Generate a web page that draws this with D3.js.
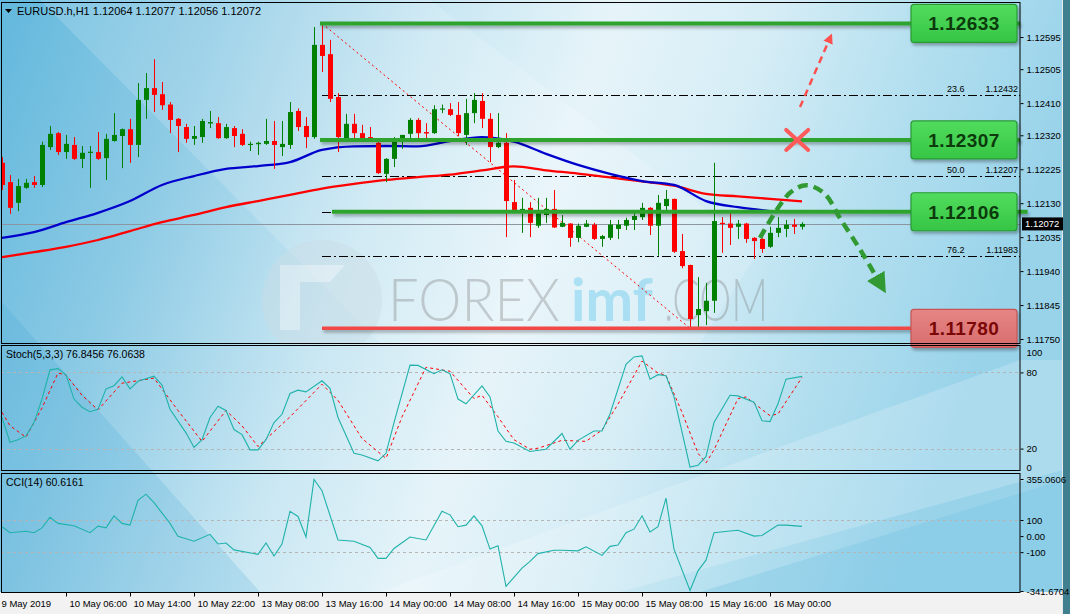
<!DOCTYPE html>
<html><head><meta charset="utf-8">
<script src="https://cdn.jsdelivr.net/npm/d3@7"></script>
<style>
body{margin:0;background:#ffffff;}
svg{display:block;font-family:"Liberation Sans",Arial,sans-serif;}
</style>
</head><body>
<svg id="c" width="1070" height="614"></svg>
<script>
// ---------------- DATA ----------------
const symbolTitle = "EURUSD.h,H1  1.12064 1.12077 1.12056 1.12072";
const stochTitle = "Stoch(5,3,3) 76.8456 76.0638";
const cciTitle = "CCI(14) 60.6161";

const open = [1.12243,1.12189,1.12131,1.12173,1.12189,1.12181,1.12287,1.12326,1.12273,1.12293,
1.12254,1.12271,1.12273,1.12256,1.12304,1.12318,1.12337,1.12293,1.12419,1.12452,
1.12435,1.12406,1.12366,1.12343,1.12310,1.12315,1.12353,1.12354,1.12312,1.12340,
1.12324,1.12293,1.12295,1.12296,1.12304,1.12287,1.12293,1.12388,1.12346,1.12315,
1.12573,1.12547,1.12427,1.12312,1.12352,1.12326,1.12315,1.12299,1.12212,1.12254,
1.12310,1.12324,1.12363,1.12329,1.12326,1.12392,1.12393,1.12377,1.12321,1.12382,
1.12416,1.12366,1.12287,1.12299,1.12133,1.12108,1.12117,1.12067,1.12097,1.12114,
1.12064,1.12073,1.12033,1.12064,1.12070,1.12030,1.12033,1.12058,1.12067,1.12083,
1.12091,1.12117,1.12067,1.12122,1.12142,1.11996,1.11957,1.11817,1.11828,1.11857,
1.12075,1.12073,1.12064,1.12073,1.12033,1.12030,1.12008,1.12047,1.12058,1.12070,
1.12064];
const high = [1.12259,1.12209,1.12198,1.12198,1.12206,1.12302,1.12346,1.12329,1.12321,1.12315,
1.12290,1.12290,1.12329,1.12324,1.12382,1.12339,1.12366,1.12466,1.12494,1.12533,
1.12469,1.12413,1.12368,1.12352,1.12346,1.12366,1.12388,1.12371,1.12352,1.12346,
1.12337,1.12302,1.12302,1.12366,1.12360,1.12360,1.12413,1.12395,1.12371,1.12623,
1.12633,1.12587,1.12438,1.12380,1.12380,1.12349,1.12343,1.12302,1.12256,1.12315,
1.12321,1.12368,1.12368,1.12354,1.12404,1.12406,1.12410,1.12413,1.12422,1.12438,
1.12438,1.12382,1.12382,1.12326,1.12195,1.12145,1.12133,1.12145,1.12145,1.12167,
1.12097,1.12074,1.12073,1.12083,1.12075,1.12041,1.12083,1.12083,1.12089,1.12111,
1.12131,1.12119,1.12153,1.12167,1.12143,1.12044,1.11958,1.11923,1.11907,1.12243,
1.12091,1.12111,1.12083,1.12075,1.12035,1.12033,1.12064,1.12091,1.12083,1.12086,
1.12077];
const low = [1.12167,1.12100,1.12108,1.12170,1.12173,1.12175,1.12279,1.12265,1.12254,1.12251,
1.12228,1.12173,1.12251,1.12195,1.12302,1.12228,1.12243,1.12259,1.12366,1.12385,
1.12391,1.12326,1.12273,1.12299,1.12293,1.12299,1.12340,1.12310,1.12310,1.12287,
1.12290,1.12276,1.12265,1.12293,1.12226,1.12262,1.12282,1.12332,1.12284,1.12310,
1.12497,1.12413,1.12273,1.12307,1.12310,1.12307,1.12304,1.12212,1.12189,1.12231,
1.12282,1.12312,1.12307,1.12310,1.12324,1.12382,1.12374,1.12318,1.12293,1.12354,
1.12340,1.12245,1.12284,1.12035,1.12105,1.12047,1.12035,1.12061,1.12075,1.12061,
1.12063,1.12008,1.12021,1.12063,1.12027,1.12008,1.12027,1.12030,1.12055,1.12055,
1.12083,1.12041,1.11983,1.12111,1.11991,1.11948,1.11780,1.11781,1.11789,1.11823,
1.11991,1.12013,1.12030,1.12019,1.11974,1.11991,1.12005,1.12035,1.12035,1.12044,
1.12056];
const close = [1.12181,1.12117,1.12178,1.12187,1.12181,1.12293,1.12324,1.12273,1.12296,1.12254,
1.12271,1.12274,1.12254,1.12310,1.12321,1.12337,1.12293,1.12419,1.12452,1.12433,
1.12404,1.12363,1.12346,1.12310,1.12318,1.12360,1.12357,1.12312,1.12343,1.12318,
1.12293,1.12296,1.12299,1.12304,1.12293,1.12296,1.12385,1.12343,1.12315,1.12573,
1.12542,1.12422,1.12315,1.12352,1.12326,1.12312,1.12305,1.12214,1.12254,1.12310,
1.12321,1.12363,1.12326,1.12325,1.12393,1.12395,1.12377,1.12326,1.12382,1.12419,
1.12366,1.12287,1.12299,1.12136,1.12111,1.12114,1.12075,1.12103,1.12114,1.12062,
1.12075,1.12033,1.12067,1.12073,1.12030,1.12038,1.12070,1.12070,1.12083,1.12094,
1.12117,1.12067,1.12131,1.12142,1.11994,1.11954,1.11806,1.11834,1.11857,1.12080,
1.12073,1.12061,1.12073,1.12030,1.12024,1.12002,1.12047,1.12061,1.12070,1.12064,
1.12072];

// moving averages, read every 4 bars
const maBlueBars = [0,4,8,12,16,20,24,28,32,36,40,44,48,52,56,60,64,68,72,76,80,84,88,92,96];
const maBlue = [1.12033,1.12049,1.12077,1.12103,1.12136,1.12181,1.12206,1.12226,1.12234,1.12245,1.12279,1.12289,1.12290,1.12289,1.12304,1.12315,1.12302,1.12268,1.12237,1.12212,1.12192,1.12181,1.12136,1.12119,1.12108];
const maRedBars = [0,4,8,12,16,20,24,28,32,36,40,44,48,52,56,60,64,68,72,76,80,84,88,92,96,100];
const maRed = [1.11979,1.11993,1.12008,1.12027,1.12052,1.12077,1.12097,1.12119,1.12136,1.12153,1.12171,1.12184,1.12195,1.12203,1.12210,1.12222,1.12233,1.12222,1.12213,1.12202,1.12191,1.12179,1.12156,1.12149,1.12142,1.12135];

// stochastic (bar, value)
const stochK = [[0,44.5],[1,25],[2,27],[3,30],[4,40.5],[5,59],[6,82],[7,83],[8,78],[9,59],[10,52.6],[11,49],[12,51],[13,67],[14,69.5],[15,76.5],[16,67],[17,73],[19,77],[20,70],[21,51],[23,32.4],[24,21],[25,27],[26,44.5],[27,53.4],[28,50],[29,35],[30,31],[31,19],[32,19],[33,27],[34,40.5],[35,47],[36,63.4],[37,66],[38,64.7],[40,73.4],[41,67.4],[42,44.5],[44,16.3],[45,15],[47,10.4],[48,16.3],[49,40.5],[51,85.7],[52,85.5],[54,79],[55,82],[56,79],[57,59],[58,55.3],[60,69.3],[61,60.7],[62,33.8],[63,25.7],[64,24.4],[66,17.7],[68,19.5],[70,31.9],[71,19.5],[72,26.5],[74,33.8],[75,33.8],[76,47.3],[78,86.3],[79,92.2],[80,93],[81,74.7],[82,78.2],[83,77.3],[84,60.7],[86,5.5],[87,6.9],[88,13.6],[89,40.5],[91,62],[92,61.5],[94,56.6],[95,41.9],[96,41.3],[97,55.3],[98,74.7],[100,76.85]];
const stochD = [[0,48.6],[1,38],[3,29],[5,52],[7,79.5],[8,78],[10,62],[12,50.5],[15,71.5],[19,75.5],[22,50],[25,25.7],[28,50],[30,38],[32,21.6],[36,45],[40,70.7],[42,58],[45,28],[48,12.3],[50,45],[53,84],[56,80.9],[59,59.4],[60,62],[62,45],[64,27],[66,19.5],[67,20.3],[70,26.5],[73,25.7],[75,34.6],[77,55],[80,88.9],[82,79.5],[83,77.7],[85,48.6],[87,16.3],[88,8.7],[89,19],[92,59.4],[93,60.7],[96,45.9],[97,47.3],[100,76.06]];
const stochLevels = [80,20];
const stochTicks = [100,80,20,0];

// CCI (bar, value)
const cci = [[0,58],[1,21],[3,30],[4,21],[5,51],[6,117],[7,79],[9,64],[11,21],[12,62],[13,51],[14,126],[15,79],[16,68],[17,223],[18,261],[19,208],[21,79],[22,-2],[24,-32],[26,11],[27,-49],[28,-43],[29,-86],[32,-114],[33,-43],[34,-124],[35,-49],[36,154],[37,122],[38,-6],[39,352],[40,282],[42,-24],[44,-32],[46,-71],[47,-139],[48,-139],[49,-77],[51,-6],[53,-24],[55,154],[56,132],[57,58],[58,68],[59,126],[60,64],[61,-81],[62,-60],[63,-313],[65,-199],[66,-157],[67,-109],[69,-88],[70,-88],[72,-92],[73,-67],[75,-120],[76,-64],[77,-56],[78,21],[79,43],[80,126],[81,25],[82,58],[83,236],[84,-81],[86,-338],[87,-216],[88,-150],[89,21],[91,32],[92,36],[94,0],[95,4],[97,68],[98,68],[100,60.6]];
const cciLevels = [100,-100];
const cciTicks = [355.0606,100,0,-100,-341.6704];
const cciTickLabels = ["355.0606","100","0.00","-100","-341.6704"];

// axes
const priceTicks = [1.12595,1.12505,1.12410,1.12320,1.12225,1.12130,1.12035,1.11940,1.11845,1.11750];
const timeBars = [0,8,16,24,32,40,48,56,64,72,80,88,96];
const timeLabels = ["9 May 2019","10 May 06:00","10 May 14:00","10 May 22:00","13 May 08:00","13 May 16:00","14 May 00:00","14 May 08:00","14 May 16:00","15 May 00:00","15 May 08:00","15 May 16:00","16 May 00:00"];
const lastPrice = 1.12072;

// analysis drawings
const fibHigh = 1.12633, fibLow = 1.11780, fibStartBar = 40, fibEndBar = 86;
const fibLevels = [0.236,0.382,0.5,0.618,0.762];
const fibShown = [["23.6","1.12432"],null,["50.0","1.12207"],null,["76.2","1.11983"]];
const levelPrices = [1.12633,1.12307,1.12106,1.11780];
const levelKinds = ["up","up","up","down"];
const levelStartBar = [39.75,39.75,41.25,40];
const levelEndBar = [127.25,127.25,128.2,113.75];
const redArrow = [[99.75,1.12399],[103.5,1.12592]];
const redCross = [99.4,1.12307];
const greenPath = [[94.75,1.12033],[98.5,1.12159],[100.6,1.12180],[102.8,1.12157],[104.8,1.12086],[107.3,1.11999],[109.6,1.11912]];

// ---------------- LAYOUT ----------------
const W = 1070, H = 614, xR = 1020;
const mainP = {t:2,b:343}, stP = {t:345,b:470}, ccP = {t:473,b:592};
const x = d3.scaleLinear().domain([0,100]).range([2,802]);
const yP = d3.scaleLinear().domain([1.11750,1.12595]).range([339,37]);
const yS = d3.scaleLinear().domain([0,100]).range([474,347]);
const yC = d3.scaleLinear().domain([-341.6704,355.0606]).range([591,479]);

const svg = d3.select('#c');
const defs = svg.append('defs');

// background
const bg = defs.append('linearGradient').attr('id','bg').attr('x1',0).attr('x2',1).attr('y1',0).attr('y2',0.2);
[[0,'#62b8dd'],[0.2,'#8ecbe5'],[0.4,'#c9e7f3'],[0.56,'#e6f4f9'],[0.7,'#d6edf6'],[0.85,'#b3dfef'],[1,'#99d3ea']]
 .forEach(s=>bg.append('stop').attr('offset',s[0]).attr('stop-color',s[1]));
const sh = defs.append('filter').attr('id','sh').attr('filterUnits','userSpaceOnUse')
  .attr('x',0).attr('y',0).attr('width',W).attr('height',H);
sh.append('feDropShadow').attr('dx',1.5).attr('dy',2.5).attr('stdDeviation',1.6).attr('flood-color','#000').attr('flood-opacity',0.3);
const gb = defs.append('linearGradient').attr('id','gbox').attr('x1',0).attr('x2',0).attr('y1',0).attr('y2',1);
gb.append('stop').attr('offset',0).attr('stop-color','#52dc5e');
gb.append('stop').attr('offset',1).attr('stop-color','#36c545');
const rb = defs.append('linearGradient').attr('id','rbox').attr('x1',0).attr('x2',0).attr('y1',0).attr('y2',1);
rb.append('stop').attr('offset',0).attr('stop-color','#e68585');
rb.append('stop').attr('offset',1).attr('stop-color','#d86d6d');

[['cm',mainP],['cs',stP],['cc',ccP]].forEach(([id,p])=>{
  defs.append('clipPath').attr('id',id).append('rect').attr('x',1).attr('y',p.t).attr('width',xR-1).attr('height',p.b-p.t);
});

svg.append('rect').attr('width',W).attr('height',H).attr('fill','#f0f0f0');
svg.append('rect').attr('x',0).attr('y',0).attr('width',1063).attr('height',592).attr('fill','url(#bg)');
const deco = svg.append('g');
deco.append('polygon').attr('points','40,0 430,0 760,250 700,343 380,343').attr('fill','#ffffff').attr('opacity',0.16);
deco.append('polygon').attr('points','0,300 0,592 260,592').attr('fill','#3a9fd0').attr('opacity',0.18);
deco.append('polygon').attr('points','380,592 1020,360 1063,360 1063,470 620,592').attr('fill','#ffffff').attr('opacity',0.2);
deco.append('polygon').attr('points','700,592 1063,480 1063,592').attr('fill','#6fbfe0').attr('opacity',0.3);
svg.append('rect').attr('x',1063).attr('y',0).attr('width',7).attr('height',H).attr('fill','#3f7f8f');
svg.append('rect').attr('x',1062).attr('y',0).attr('width',1).attr('height',H).attr('fill','#e8e8e8');
svg.append('rect').attr('x',0).attr('y',593).attr('width',1062).attr('height',21).attr('fill','#f2f2f2');

// ---------- MAIN PANEL ----------
const gm = svg.append('g').attr('clip-path','url(#cm)');

// watermark
const wm = gm.append('g');
wm.append('circle').attr('cx',322).attr('cy',300).attr('r',60).attr('fill','#c9dce4').attr('opacity',0.45);
wm.append('path').attr('d','M280,265 L345,265 L330,282 L300,282 L300,330 L280,330 Z').attr('fill','#ffffff').attr('opacity',0.35);
const wmFont = 'Lato, "DejaVu Sans", sans-serif';
wm.append('text').attr('x',388).attr('y',321).attr('font-family',wmFont).attr('font-weight',300)
  .attr('font-size',60).attr('textLength',172).attr('lengthAdjust','spacingAndGlyphs').attr('fill','#7d7d7d').attr('opacity',0.35).text('FOREX');
wm.append('text').attr('x',571).attr('y',321).attr('font-family',wmFont).attr('font-weight',700)
  .attr('font-size',60).attr('textLength',82).attr('lengthAdjust','spacingAndGlyphs').attr('fill','#7fd2f0').attr('opacity',0.55).text('imf');
wm.append('text').attr('x',664).attr('y',321).attr('font-family',wmFont).attr('font-weight',300)
  .attr('font-size',60).attr('textLength',104).attr('lengthAdjust','spacingAndGlyphs').attr('fill','#7d7d7d').attr('opacity',0.35).text('.COM');

// current price line
gm.append('line').attr('x1',1).attr('x2',xR).attr('y1',Math.round(yP(lastPrice))+0.5).attr('y2',Math.round(yP(lastPrice))+0.5).attr('stroke','#8c95a0').attr('stroke-width',1);

// fib lines
const fibRange = fibHigh - fibLow;
fibLevels.forEach((f,i)=>{
  const p = fibHigh - f*fibRange;
  gm.append('line').attr('x1',x(fibStartBar)).attr('x2',xR).attr('y1',Math.round(yP(p))+0.5).attr('y2',Math.round(yP(p))+0.5)
    .attr('stroke','#000').attr('stroke-width',1).attr('stroke-dasharray','9,3,2,3');
  if (fibShown[i]) {
    gm.append('text').attr('x',947).attr('y',Math.round(yP(p))-3).attr('font-size',9).attr('fill','#000').text(fibShown[i][0]);
    gm.append('text').attr('x',1018).attr('y',Math.round(yP(p))-3).attr('font-size',9).attr('text-anchor','end').attr('fill','#000').text(fibShown[i][1]);
  }
});
// fib trend line
gm.append('line').attr('x1',x(fibStartBar)).attr('y1',yP(fibHigh)).attr('x2',x(fibEndBar)).attr('y2',yP(fibLow))
  .attr('stroke','#ff0000').attr('stroke-width',1).attr('stroke-dasharray','2,3');

// moving averages
const lineGen = d3.line().x(d=>x(d[0])).y(d=>yP(d[1])).curve(d3.curveMonotoneX);
gm.append('path').attr('d',lineGen(maRedBars.map((b,i)=>[b,maRed[i]]))).attr('fill','none').attr('stroke','#ff0000').attr('stroke-width',2.3);
gm.append('path').attr('d',lineGen(maBlueBars.map((b,i)=>[b,maBlue[i]]))).attr('fill','none').attr('stroke','#0000cc').attr('stroke-width',2.3);

// candles
const bars = d3.range(open.length).map(i=>({i,o:open[i],h:high[i],l:low[i],c:close[i]}));
const cg = gm.append('g');
cg.selectAll('line').data(bars).join('line')
  .attr('x1',d=>Math.round(x(d.i))+0.5).attr('x2',d=>Math.round(x(d.i))+0.5)
  .attr('y1',d=>yP(d.h)).attr('y2',d=>yP(d.l))
  .attr('stroke',d=>d.c>=d.o?'#008000':'#ff0000').attr('stroke-width',1);
cg.selectAll('rect').data(bars).join('rect')
  .attr('x',d=>Math.round(x(d.i))-2).attr('width',5)
  .attr('y',d=>yP(Math.max(d.o,d.c))).attr('height',d=>Math.max(1.2,Math.abs(yP(d.o)-yP(d.c))))
  .attr('fill',d=>d.c>=d.o?'#008000':'#ff0000');

// level lines (green / red), with shadow
const gw = svg.append('g');
levelPrices.forEach((p,i)=>{
  gw.append('line').attr('x1',x(levelStartBar[i])).attr('x2',x(levelEndBar[i])).attr('y1',yP(p)).attr('y2',yP(p))
    .attr('stroke',levelKinds[i]==='up'?'#2ea42e':'#f24646').attr('stroke-width',levelKinds[i]==='up'?4:3.5)
    .attr('filter','url(#sh)');
});

// annotations
defs.append('marker').attr('id','ar').attr('viewBox','0 0 10 10').attr('refX',5).attr('refY',5)
  .attr('markerWidth',4).attr('markerHeight',4).attr('orient','auto')
  .append('path').attr('d','M0,0 L10,5 L0,10 Z').attr('fill','#ff5050');
defs.append('marker').attr('id','ag').attr('viewBox','0 0 10 10').attr('refX',3).attr('refY',5)
  .attr('markerWidth',4.5).attr('markerHeight',4.5).attr('orient','auto')
  .append('path').attr('d','M0,0 L10,5 L0,10 Z').attr('fill','#329a32');
const ang = svg.append('g');
ang.append('path').attr('d',d3.line().x(d=>x(d[0])).y(d=>yP(d[1]))(redArrow))
  .attr('stroke','#ff5050').attr('stroke-width',2.5).attr('stroke-dasharray','7,5').attr('fill','none').attr('marker-end','url(#ar)');
const cx0 = x(redCross[0]), cy0 = yP(redCross[1]);
ang.append('path').attr('d',`M${cx0-11},${cy0-10}L${cx0+11},${cy0+10}M${cx0-11},${cy0+10}L${cx0+11},${cy0-10}`)
  .attr('stroke','#ff5a5a').attr('stroke-width',4).attr('stroke-linecap','round').attr('fill','none');
ang.append('path').attr('d',d3.line().x(d=>x(d[0])).y(d=>yP(d[1])).curve(d3.curveCatmullRom)(greenPath))
  .attr('stroke','#329a32').attr('stroke-width',4.5).attr('stroke-dasharray','10,6').attr('fill','none').attr('marker-end','url(#ag)');

// level boxes
const boxG = svg.append('g');
levelPrices.forEach((p,i)=>{
  const cy = yP(p);
  const up = levelKinds[i]==='up';
  const bh = 38, by = Math.max(4, cy - bh/2);
  boxG.append('rect').attr('x',911).attr('y',by).attr('width',106).attr('height',bh).attr('rx',3)
    .attr('fill',up?'url(#gbox)':'url(#rbox)').attr('stroke',up?'#2a9a36':'#c85555').attr('stroke-width',1.2).attr('filter','url(#sh)');
  boxG.append('text').attr('x',964).attr('y',by+bh/2+7).attr('text-anchor','middle').attr('font-weight','bold')
    .attr('font-size',19).attr('letter-spacing',0.4).attr('fill',up?'#0c3a0c':'#7a0606').text(p.toFixed(5));
});

// ---------- STOCH PANEL ----------
const gs = svg.append('g').attr('clip-path','url(#cs)');
stochLevels.forEach(v=>gs.append('line').attr('x1',1).attr('x2',xR).attr('y1',Math.round(yS(v))+0.5).attr('y2',Math.round(yS(v))+0.5)
  .attr('stroke','#b5b5b5').attr('stroke-dasharray','3,3'));
const sLine = d3.line().x(d=>x(d[0])).y(d=>yS(d[1]));
gs.append('path').attr('d',sLine(stochD)).attr('fill','none').attr('stroke','#ff0000').attr('stroke-width',1).attr('stroke-dasharray','3,3');
gs.append('path').attr('d',sLine(stochK)).attr('fill','none').attr('stroke','#20b2aa').attr('stroke-width',1.1);

// ---------- CCI PANEL ----------
const gc = svg.append('g').attr('clip-path','url(#cc)');
cciLevels.forEach(v=>gc.append('line').attr('x1',1).attr('x2',xR).attr('y1',Math.round(yC(v))+0.5).attr('y2',Math.round(yC(v))+0.5)
  .attr('stroke','#b5b5b5').attr('stroke-dasharray','3,3'));
gc.append('path').attr('d',d3.line().x(d=>x(d[0])).y(d=>yC(d[1]))(cci)).attr('fill','none').attr('stroke','#20b2aa').attr('stroke-width',1.1);

// ---------- FRAMES ----------
[mainP,stP,ccP].forEach(p=>{
  svg.append('rect').attr('x',1.5).attr('y',p.t+0.5).attr('width',xR-1.5).attr('height',p.b-p.t).attr('fill','none').attr('stroke','#000').attr('stroke-width',1);
});

// ---------- AXES ----------
const axFont = g=>g.selectAll('text').attr('font-size',9.5).attr('fill','#000').attr('font-family','"Liberation Sans",Arial,sans-serif');
const pa = svg.append('g').attr('transform',`translate(${xR+0.5},0)`)
  .call(d3.axisRight(yP).tickValues(priceTicks).tickFormat(d3.format('.5f')).tickSize(3).tickPadding(3));
pa.select('.domain').remove(); pa.call(axFont);
// current price tag
const ly = yP(lastPrice);
svg.append('rect').attr('x',xR+2).attr('y',ly-6.5).attr('width',41).attr('height',13).attr('fill','#000');
svg.append('text').attr('x',xR+5).attr('y',ly+3.5).attr('font-size',9.5).attr('fill','#fff').text(lastPrice.toFixed(5));

const sa = svg.append('g').attr('transform',`translate(${xR+0.5},0)`)
  .call(d3.axisRight(yS).tickValues(stochTicks).tickSize(3).tickPadding(3));
sa.select('.domain').remove(); sa.call(axFont);
sa.selectAll('.tick').filter(d=>d===100).select('text').attr('dy','0.9em');
sa.selectAll('.tick').filter(d=>d===0).select('text').attr('dy','-0.35em');
sa.selectAll('.tick').filter(d=>d===0||d===100).select('line').remove();

const ca = svg.append('g').attr('transform',`translate(${xR+0.5},0)`)
  .call(d3.axisRight(yC).tickValues(cciTicks).tickFormat((d,i)=>cciTickLabels[i]).tickSize(3).tickPadding(3));
ca.select('.domain').remove(); ca.call(axFont);

const ta = svg.append('g').attr('transform',`translate(0,${ccP.b+0.5})`)
  .call(d3.axisBottom(x).tickValues(timeBars).tickFormat((d,i)=>timeLabels[i]).tickSize(4).tickPadding(4));
ta.select('.domain').remove(); ta.call(axFont);
ta.selectAll('text').attr('text-anchor','start').attr('dx',3);
ta.selectAll('.tick').filter(d=>d===0).select('text').attr('dx',-1);
ta.selectAll('.tick').filter(d=>d===0).select('line').remove();

// ---------- TITLES ----------
svg.append('path').attr('d','M5,9 L12,9 L8.5,13 Z').attr('fill','#000');
svg.append('text').attr('x',17).attr('y',15).attr('font-size',11).attr('fill','#000').text(symbolTitle);
svg.append('text').attr('x',6).attr('y',358).attr('font-size',10.5).attr('fill','#000').text(stochTitle);
svg.append('text').attr('x',6).attr('y',486).attr('font-size',10.5).attr('fill','#000').text(cciTitle);
</script>
</body></html>
